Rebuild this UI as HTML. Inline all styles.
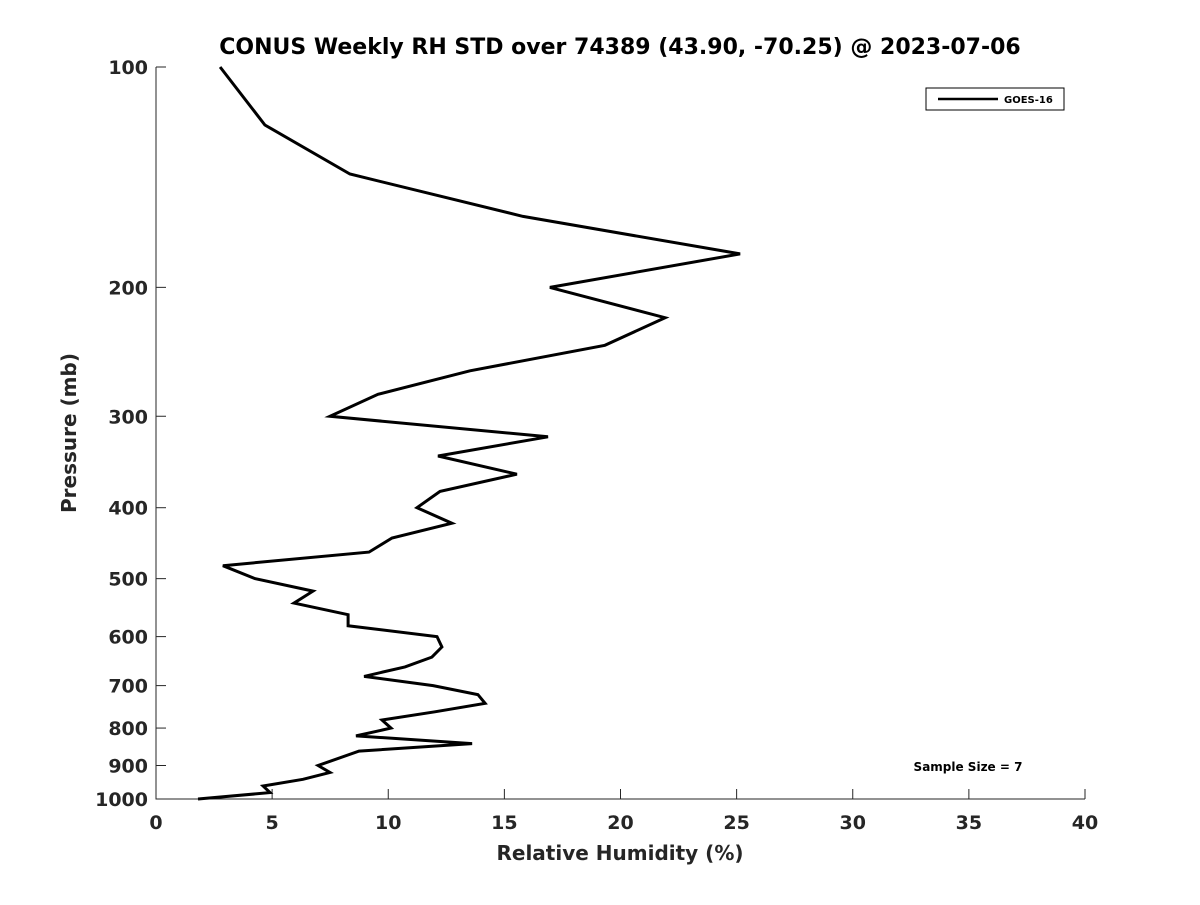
<!DOCTYPE html>
<html><head><meta charset="utf-8"><style>
body{margin:0;background:#fff;}
svg text{font-family:"DejaVu Sans","Liberation Sans",sans-serif;font-weight:bold;fill:#262626;}
</style></head><body>
<svg width="1200" height="900" xmlns="http://www.w3.org/2000/svg">
<rect width="1200" height="900" fill="#fff"/>
<text x="620" y="54" text-anchor="middle" font-size="22" style="fill:#000">CONUS Weekly RH STD over 74389 (43.90, -70.25) @ 2023-07-06</text>
<g id="axes"></g>
<text x="620" y="860" text-anchor="middle" font-size="20">Relative Humidity (%)</text>
<text transform="translate(76,433) rotate(-90)" text-anchor="middle" font-size="20">Pressure (mb)</text>
<g>
<rect x="926" y="88" width="138" height="22" fill="#fff" stroke="#000" stroke-width="1"/>
<line x1="938" y1="99" x2="998" y2="99" stroke="#000" stroke-width="2.5"/>
<text x="1004" y="103" font-size="10" style="fill:#000">GOES-16</text>
</g>
<text x="968" y="771" text-anchor="middle" font-size="12" style="fill:#000">Sample Size = 7</text>
</svg>
<script>
const rhValues=[2.76,4.69,8.35,15.80,25.15,16.96,21.92,19.33,13.52,9.56,7.49,16.88,12.14,15.54,12.23,11.24,12.74,10.16,9.17,2.88,4.26,6.76,5.94,8.27,8.27,12.10,12.31,11.88,10.72,8.96,11.93,13.86,14.17,12.01,9.73,10.12,8.61,13.61,8.74,6.98,7.49,6.33,4.61,4.91,1.81];
const pressureLevels=[100,120,140,160,180,200,220,240,260,280,300,320,340,360,380,400,420,440,460,480,500,520,540,560,580,600,620,640,660,680,700,720,740,760,780,800,820,840,860,900,920,940,960,980,1000];
const xTicks=[0,5,10,15,20,25,30,35,40];
const yTicks=[100,200,300,400,500,600,700,800,900,1000];
const X0=156,X1=1085,Y0=67,Y1=799;
function xs(v){return X0+(v-0)/(40-0)*(X1-X0);}
function ys(p){return Y0+(Math.log10(p)-2)/(1)*(Y1-Y0);}
const NS="http://www.w3.org/2000/svg";
const svg=document.querySelector('svg');
const g=document.getElementById('axes');
function mk(t,a){const e=document.createElementNS(NS,t);for(const k in a)e.setAttribute(k,a[k]);return e;}
const ax=mk('path',{d:`M${X0},${Y0}V${Y1}H${X1}`,fill:'none',stroke:'#262626','stroke-width':1});


g.appendChild(ax);
xTicks.forEach(t=>{
 const x=xs(t);
 const l=mk('line',{x1:x,y1:Y1,x2:x,y2:Y1-10,stroke:'#262626'});
 
 
 g.appendChild(l);
 const tx=mk('text',{x:x,y:Y1+30,'text-anchor':'middle','font-size':19});
 
 
 tx.textContent=t;g.appendChild(tx);
});
yTicks.forEach(t=>{
 const y=ys(t);
 const l=mk('line',{x1:X0,y1:y,x2:X0+10,y2:y,stroke:'#262626'});
 
 
 g.appendChild(l);
 const tx=mk('text',{x:X0-8,y:y+7,'text-anchor':'end','font-size':19});
 
 
 tx.textContent=t;g.appendChild(tx);
});
const pts=rhValues.map((v,i)=>xs(v).toFixed(1)+','+ys(pressureLevels[i]).toFixed(1)).join(' ');
const line=mk('polyline',{points:pts,fill:'none',stroke:'#000','stroke-width':3,'stroke-linejoin':'miter'});


svg.appendChild(line);
</script>
</body></html>
